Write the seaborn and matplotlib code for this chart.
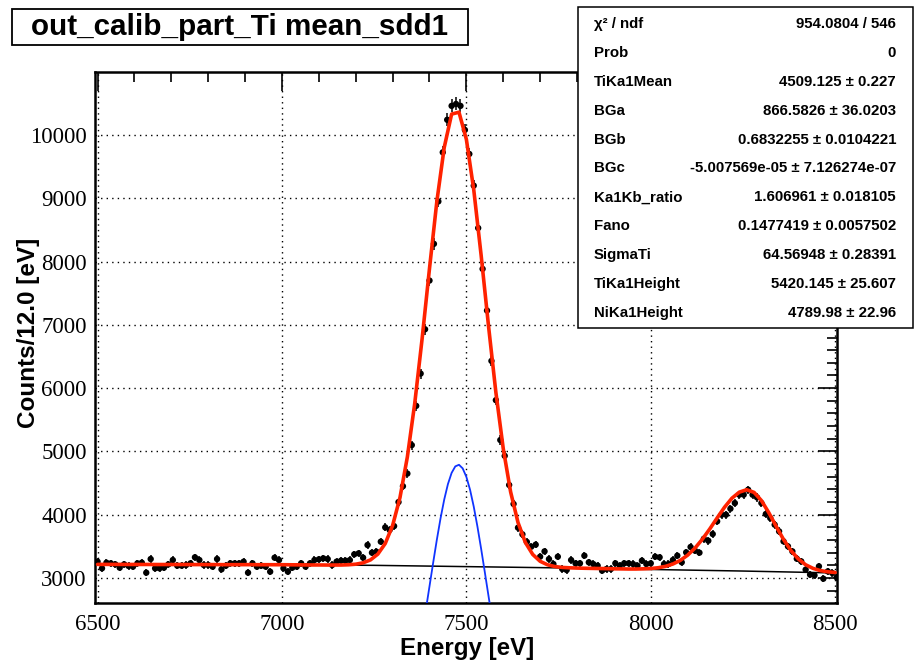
import numpy as np
import matplotlib
matplotlib.use("Agg")
import matplotlib.pyplot as plt
from matplotlib.patches import Rectangle
from matplotlib.ticker import MultipleLocator
import seaborn as sns

# histogram: 12 eV bins, centres start at 6500 eV
first_bin = 6500.0
bin_width = 12.0
counts = [
    3258, 3153, 3242, 3232, 3216, 3163, 3216, 3190, 3179, 3232,
    3242, 3084, 3300, 3153, 3153, 3163, 3216, 3284, 3195, 3195,
    3205, 3232, 3327, 3284, 3205, 3205, 3179, 3300, 3137, 3195,
    3232, 3232, 3232, 3258, 3084, 3232, 3179, 3195, 3179, 3100,
    3321, 3284, 3153, 3100, 3163, 3179, 3232, 3179, 3232, 3284,
    3295, 3311, 3300, 3205, 3258, 3274, 3274, 3284, 3374, 3390,
    3321, 3521, 3400, 3416, 3574, 3800, 3760, 3820,
    4200, 4450, 4650, 5100, 5720, 6230, 6930, 7700, 8280, 8950,
    9726, 10240, 10460, 10490, 10460, 10080, 9700, 9200, 8530, 7884,
    7226, 6430, 5810, 5180, 4930, 4470, 4170, 3795,
    3690, 3570, 3495, 3527, 3337, 3421, 3300, 3221, 3337, 3142,
    3126, 3284, 3232, 3232, 3353, 3248, 3221, 3195, 3116, 3142,
    3142, 3232, 3195, 3232, 3232, 3221, 3195, 3274, 3221, 3232,
    3337, 3327, 3221, 3221, 3284, 3353, 3248, 3405,
    3490, 3432, 3400, 3620, 3589, 3695, 3895, 4000, 4000, 4095,
    4184, 4316, 4316, 4395, 4316, 4274, 4184, 4011, 3947, 3842,
    3737, 3579, 3500, 3421, 3305, 3263, 3132, 3053, 3042, 3184,
    2989, 3105, 3079, 3011,
]

# total fit function, sampled every 20 eV from 6500 to 8500
fit_start, fit_stop, fit_points = 6500, 8500, 101
fit_total = [
    3215, 3215, 3215, 3215, 3214, 3214, 3214, 3214, 3213, 3213,
    3213, 3213, 3213, 3212, 3212, 3212, 3212, 3211, 3211, 3211,
    3211, 3211, 3210, 3210, 3210, 3210,
    3209, 3208, 3207, 3206, 3206, 3205, 3205, 3205, 3209, 3218,
    3240, 3286, 3378, 3545, 3829, 4272, 4913, 5759, 6781, 7890,
    8952, 9804, 10330, 10360, 9931, 9136, 8101, 6985, 5934, 5045,
    4360, 3877, 3561, 3372, 3264, 3209, 3181, 3167, 3161,
    3157, 3154, 3152, 3150, 3148, 3145, 3144, 3142, 3142, 3145,
    3150, 3162, 3184, 3221, 3278, 3361, 3473, 3613, 3775, 3949,
    4118, 4260, 4356, 4395, 4353, 4224, 4033, 3817, 3609, 3434,
    3301, 3209, 3152, 3117, 3098, 3087,
]

# background component
bg_energy = [6500, 7000, 7250, 7500, 7750, 8000, 8250, 8500]
bg_counts = [3215, 3210, 3200, 3180, 3160, 3135, 3110, 3080]

# NiKa1 gaussian component (10 eV steps)
peak_energy = [7370, 7380, 7390, 7400, 7410, 7420, 7430, 7440, 7450, 7460, 7470,
               7480, 7490, 7500, 7510, 7520, 7530, 7540, 7550, 7560, 7570, 7580]
peak_counts = [1791, 2130, 2493, 2868, 3243, 3607, 3944, 4241, 4484, 4661, 4764,
               4789, 4732, 4598, 4394, 4128, 3813, 3463, 3093, 2717, 2346, 1993]

stat_names = ["χ² / ndf", "Prob", "TiKa1Mean", "BGa", "BGb", "BGc",
              "Ka1Kb_ratio", "Fano", "SigmaTi", "TiKa1Height", "NiKa1Height"]
stat_values = ["954.0804 / 546", "0", "4509.125 ± 0.227", "866.5826 ± 36.0203",
               "0.6832255 ± 0.0104221", "-5.007569e-05 ± 7.126274e-07",
               "1.606961 ± 0.018105", "0.1477419 ± 0.0057502",
               "64.56948 ± 0.28391", "5420.145 ± 25.607", "4789.98 ± 22.96"]

energy = first_bin + bin_width * np.arange(len(counts))
fit_energy = np.linspace(fit_start, fit_stop, fit_points)

sns.set_style("white")
plt.rcParams["font.family"] = ["Liberation Sans", "DejaVu Sans"]
plt.rcParams["text.color"] = "black"
plt.rcParams["axes.labelcolor"] = "black"
plt.rcParams["xtick.color"] = "black"
plt.rcParams["ytick.color"] = "black"

W, H = 924, 663
fig = plt.figure(figsize=(W / 100, H / 100), dpi=100)
fig.patch.set_facecolor("white")

# axes frame in pixel terms: x 95..837, y 71.7..603
ax = fig.add_axes([95 / W, 1 - 603 / H, 742 / W, (603 - 71.7) / H])
ax.set_xlim(6493, 8505)
ax.set_ylim(2605, 11000)

# data with sqrt(N) errors
ax.errorbar(energy, counts, yerr=np.sqrt(counts), fmt="none", ecolor="black",
            elinewidth=1.1, capsize=0, zorder=3)
sns.scatterplot(x=energy, y=counts, ax=ax, color="black", s=21,
                edgecolor="none", marker="o", zorder=3, legend=False)

# fit components
sns.lineplot(x=bg_energy, y=bg_counts, ax=ax, color="black", linewidth=1.1,
             sort=False, estimator=None, zorder=4)
sns.lineplot(x=peak_energy, y=peak_counts, ax=ax, color="#1034ff", linewidth=1.3,
             sort=False, estimator=None, zorder=4)
sns.lineplot(x=fit_energy, y=fit_total, ax=ax, color="#ff2200", linewidth=2.6,
             sort=False, estimator=None, zorder=5)

# ROOT-like frame, ticks and dotted grid
ax.set_xticks([6500, 7000, 7500, 8000, 8500])
ax.set_yticks(np.arange(3000, 10001, 1000))
ax.xaxis.set_minor_locator(MultipleLocator(100))
ax.yaxis.set_minor_locator(MultipleLocator(200))
ax.tick_params(which="both", direction="in", top=True, right=True,
               colors="black", width=1.2)
ax.tick_params(which="major", length=14)
ax.tick_params(which="minor", length=7)
ax.tick_params(axis="x", which="major", pad=8)
ax.tick_params(axis="y", which="major", pad=6)
ax.grid(True, which="major", color="black", linestyle=(0, (1, 3)), linewidth=1.0)
ax.set_axisbelow(True)
for s in ax.spines.values():
    s.set_color("black")
    s.set_linewidth(1.8)
for lab in ax.get_xticklabels() + ax.get_yticklabels():
    lab.set_fontfamily("Liberation Serif")
    lab.set_fontsize(16.5)
    lab.set_color("black")
ax.set_xlabel("")
ax.set_ylabel("")

fig.text(467 / W, 1 - 648 / H, "Energy [eV]", fontsize=17.4, fontweight="bold",
         ha="center", va="center")
fig.text(29 / W, 1 - 333 / H, "Counts/12.0 [eV]", fontsize=17.5, fontweight="bold",
         rotation=90, ha="center", va="center")

# title box
fig.patches.append(Rectangle((12 / W, 1 - 45 / H), 456 / W, 36 / H,
                             transform=fig.transFigure, facecolor="white",
                             edgecolor="black", linewidth=1.3, zorder=6))
fig.text(240 / W, 1 - 27 / H, "out_calib_part_Ti mean_sdd1", fontsize=21.3,
         fontweight="bold", ha="center", va="center", zorder=7)

# stats box
fig.patches.append(Rectangle((578 / W, 1 - 328 / H), 335 / W, 321 / H,
                             transform=fig.transFigure, facecolor="white",
                             edgecolor="black", linewidth=1.1, zorder=6))
for i, (name, val) in enumerate(zip(stat_names, stat_values)):
    yy = 1 - (24 + 28.9 * i) / H
    fig.text(594 / W, yy, name, fontsize=10.8, fontweight="bold",
             ha="left", va="center", zorder=7)
    fig.text(896 / W, yy, val, fontsize=10.8, fontweight="bold",
             ha="right", va="center", zorder=7)

fig.savefig("out.png", dpi=100, facecolor="white")
